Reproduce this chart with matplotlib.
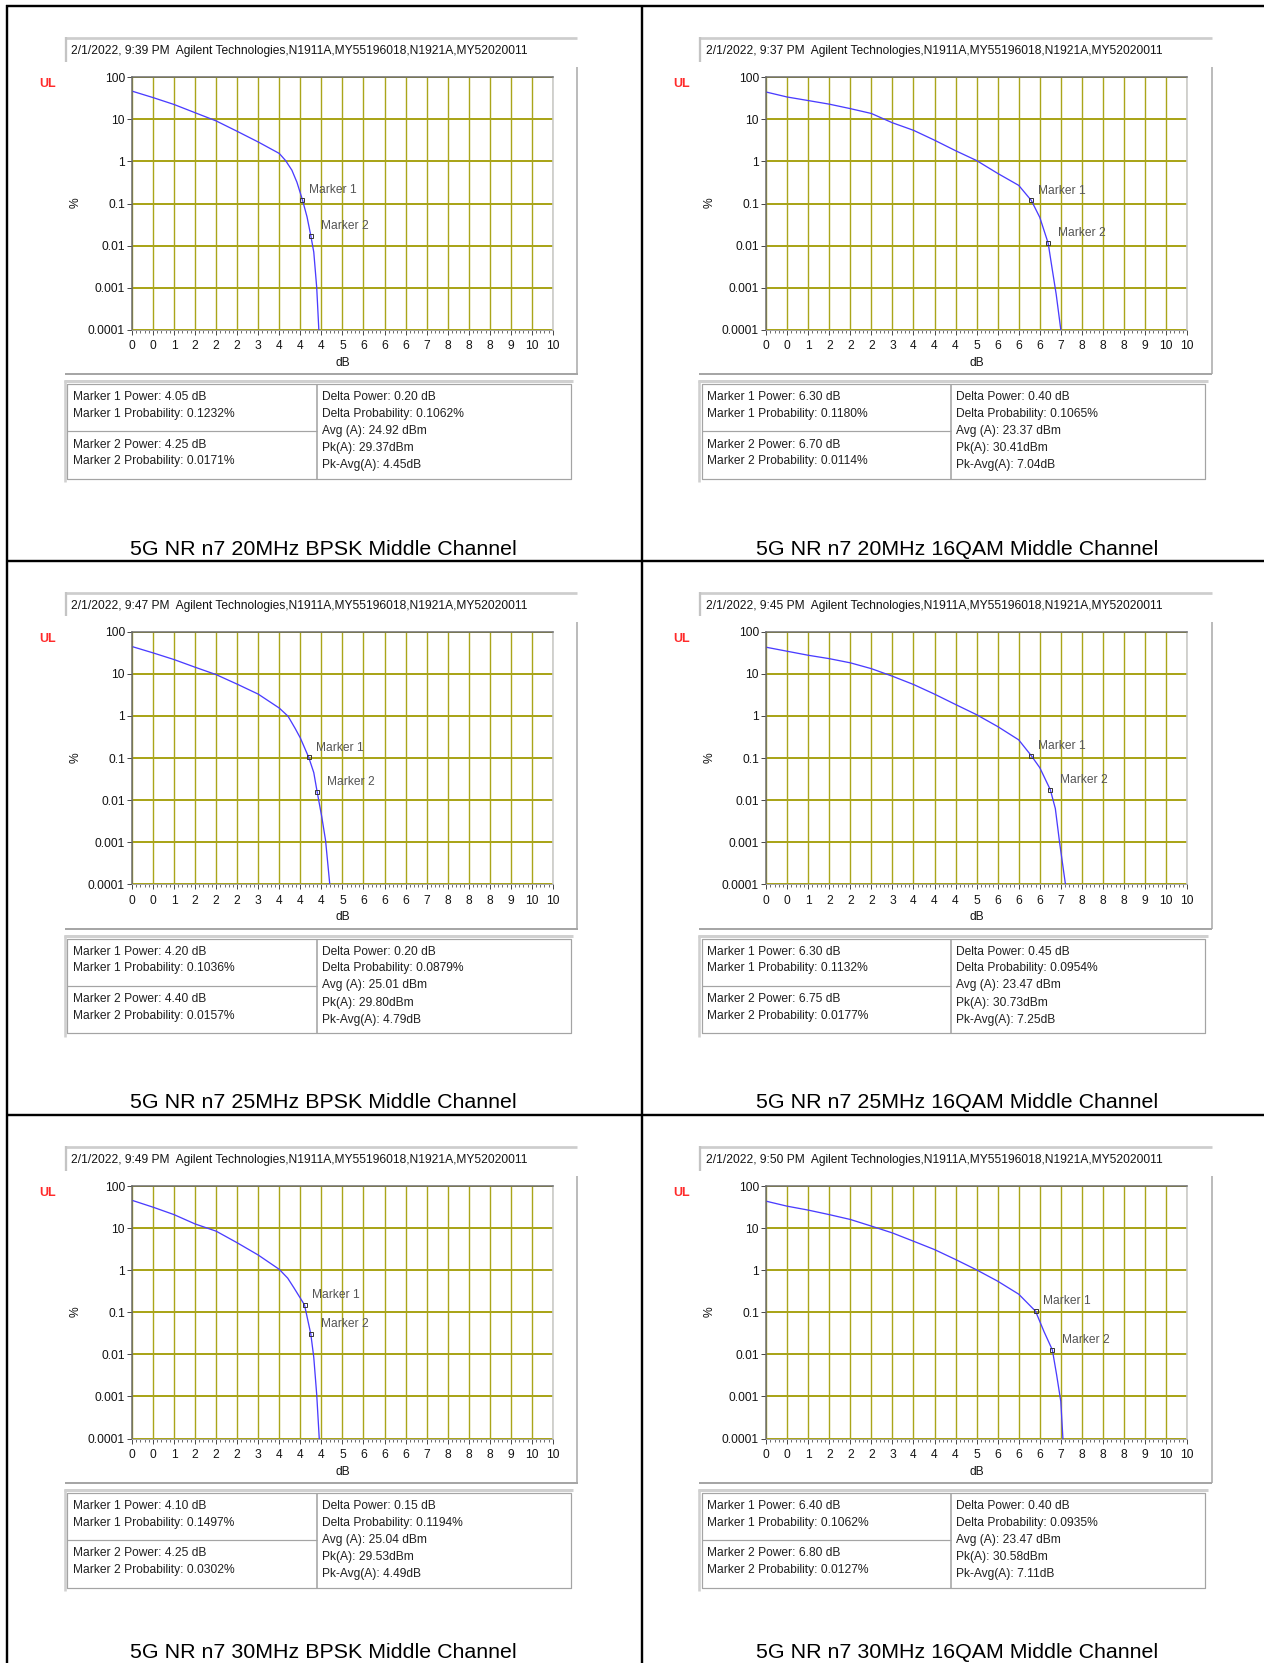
import numpy as np
import matplotlib
matplotlib.use("Agg")
import matplotlib.pyplot as plt
from matplotlib.ticker import MultipleLocator, NullLocator

# ---------------------------------------------------------------- data
captions = [
    "5G NR n7 20MHz BPSK Middle Channel",
    "5G NR n7 20MHz 16QAM Middle Channel",
    "5G NR n7 25MHz BPSK Middle Channel",
    "5G NR n7 25MHz 16QAM Middle Channel",
    "5G NR n7 30MHz BPSK Middle Channel",
    "5G NR n7 30MHz 16QAM Middle Channel",
]
capture_times = [
    "2/1/2022, 9:39 PM", "2/1/2022, 9:37 PM",
    "2/1/2022, 9:47 PM", "2/1/2022, 9:45 PM",
    "2/1/2022, 9:49 PM", "2/1/2022, 9:50 PM",
]
instrument_id = "Agilent Technologies,N1911A,MY55196018,N1921A,MY52020011"

# CCDF curves: power above average (dB) vs probability (%)
db_20_bpsk = [0, 0.5, 1.0, 1.5, 2.0, 2.5, 3.0, 3.5, 3.65, 3.8, 3.92, 4.05,
              4.16, 4.25, 4.32, 4.39, 4.44]
pct_20_bpsk = [47, 33, 22.6, 14.4, 9.2, 5.2, 2.9, 1.55, 1.05, 0.62, 0.32, 0.1232,
               0.048, 0.0171, 0.007, 0.001, 0.0001]

db_20_16qam = [0, 0.5, 1.0, 1.5, 2.0, 2.5, 3.0, 3.5, 4.0, 4.5, 5.0, 5.5, 6.0,
               6.30, 6.5, 6.70, 6.79, 6.89, 7.0]
pct_20_16qam = [44.7, 34, 28, 23, 18, 13.8, 8.3, 5.5, 3.2, 1.8, 1.05, 0.52,
                0.27, 0.1180, 0.047, 0.0114, 0.003, 0.0007, 0.0001]

db_25_bpsk = [0, 0.5, 1.0, 1.5, 2.0, 2.5, 3.0, 3.5, 3.71, 3.88, 4.0, 4.20,
              4.32, 4.40, 4.51, 4.60, 4.70]
pct_25_bpsk = [44.7, 31.6, 21.9, 14.4, 9.6, 5.7, 3.3, 1.54, 0.98, 0.5, 0.3,
               0.1036, 0.045, 0.0157, 0.004, 0.0011, 0.0001]

db_25_16qam = [0, 0.5, 1.0, 1.5, 2.0, 2.5, 3.0, 3.5, 4.0, 4.5, 5.0, 5.5, 6.0,
               6.30, 6.5, 6.75, 6.87, 6.97, 7.11]
pct_25_16qam = [43, 34.5, 27.7, 23, 18.3, 13.3, 8.8, 5.6, 3.3, 1.87, 1.07, 0.56,
                0.27, 0.1132, 0.059, 0.0177, 0.0063, 0.001, 0.0001]

db_30_bpsk = [0, 0.5, 1.0, 1.5, 2.0, 2.5, 3.0, 3.5, 3.7, 3.85, 4.10, 4.25,
              4.32, 4.39, 4.45]
pct_30_bpsk = [46, 31.6, 21, 12.6, 8.5, 4.5, 2.3, 1.05, 0.65, 0.38, 0.1497,
               0.0302, 0.0085, 0.0011, 0.0001]

db_30_16qam = [0, 0.5, 1.0, 1.5, 2.0, 2.5, 3.0, 3.5, 4.0, 4.5, 5.0, 5.5, 6.0,
               6.40, 6.6, 6.80, 6.9, 7.0, 7.05]
pct_30_16qam = [43.8, 33.3, 26.9, 21, 16.1, 11.2, 7.7, 4.9, 3.1, 1.8, 1.02,
                0.55, 0.27, 0.1062, 0.035, 0.0127, 0.0033, 0.00076, 0.0001]

# marker read-outs
m1_power = [4.05, 6.30, 4.20, 6.30, 4.10, 6.40]
m1_prob = [0.1232, 0.1180, 0.1036, 0.1132, 0.1497, 0.1062]
m2_power = [4.25, 6.70, 4.40, 6.75, 4.25, 6.80]
m2_prob = [0.0171, 0.0114, 0.0157, 0.0177, 0.0302, 0.0127]
delta_power = [0.20, 0.40, 0.20, 0.45, 0.15, 0.40]
delta_prob = [0.1062, 0.1065, 0.0879, 0.0954, 0.1194, 0.0935]
avg_dbm = [24.92, 23.37, 25.01, 23.47, 25.04, 23.47]
pk_dbm = [29.37, 30.41, 29.80, 30.73, 29.53, 30.58]
pk_avg_db = [4.45, 7.04, 4.79, 7.25, 4.49, 7.11]

# axis ticks
xtick_values = np.arange(0, 10.01, 0.5)
xtick_labels = ["0", "0", "1", "2", "2", "2", "3", "4", "4", "4", "5",
                "6", "6", "6", "7", "8", "8", "8", "9", "10", "10"]
ytick_values = [1e-4, 1e-3, 1e-2, 1e-1, 1, 10, 100]
ytick_labels = ["0.0001", "0.001", "0.01", "0.1", "1", "10", "100"]

curves_db = [db_20_bpsk, db_20_16qam, db_25_bpsk, db_25_16qam, db_30_bpsk, db_30_16qam]
curves_pct = [pct_20_bpsk, pct_20_16qam, pct_25_bpsk, pct_25_16qam, pct_30_bpsk, pct_30_16qam]

# ---------------------------------------------------------------- style
plt.rcParams["font.family"] = ["Liberation Sans", "DejaVu Sans"]
W, H = 1264, 1663
PX = 72.0 / 100.0          # points per pixel at 100 dpi
F_SMALL = 12.0             # px
F_CAPTION = 21.4           # px
GRID = "#aaa51a"
CURVE = "#4a3cff"
TXT = "#141414"

fig = plt.figure(figsize=(W / 100, H / 100), dpi=100)
bg = fig.add_axes([0, 0, 1, 1])
bg.set_xlim(0, W)
bg.set_ylim(H, 0)
bg.axis("off")


def line(xs, ys, color, lw, **kw):
    bg.plot(xs, ys, color=color, lw=lw * PX, solid_capstyle="butt", **kw)


def text(x, y, s, size=F_SMALL, ha="left", color=TXT, **kw):
    # y is the visual middle of the capitals
    bg.text(x, y + 0.358 * size, s, fontsize=size * PX, ha=ha, va="baseline",
            color=color, **kw)


# cell grid
col_x = [7.3, 641.5]
row_y = [6.2, 560.7, 1115.0]
caption_dy = [540.8, 540.0, 535.5]
line([6.0, W], [row_y[0]] * 2, "black", 2.4)
for yy in row_y[1:]:
    line([col_x[0], W], [yy] * 2, "black", 2.4)
line([col_x[0]] * 2, [5.0, H], "black", 2.4)
line([col_x[1]] * 2, [row_y[0], H], "black", 2.4)

for i in range(6):
    r, c = divmod(i, 2)
    x0, y0 = col_x[c], row_y[r]

    # header box
    line([x0 + 57.7, x0 + 570.0], [y0 + 32.1] * 2, "#cdcdcd", 2.7)
    line([x0 + 58.9] * 2, [y0 + 30.8, y0 + 55.5], "#c4c4c4", 2.3)
    text(x0 + 64.1, y0 + 43.8, f"{capture_times[i]}  {instrument_id}")

    text(x0 + 32.0, y0 + 76.8, "UL", size=12.5, color="#ff2a2a", fontweight="bold")

    # raised graph frame
    line([x0 + 570.0] * 2, [y0 + 60.8, y0 + 368.0], "#a6a6a6", 1.5)
    line([x0 + 57.7, x0 + 570.7], [y0 + 368.0] * 2, "#a6a6a6", 2.0)

    # plot area
    ax_l, ax_t, ax_w, ax_h = x0 + 124.6, y0 + 71.1, 421.0, 252.4
    ax = fig.add_axes([ax_l / W, 1 - (ax_t + ax_h) / H, ax_w / W, ax_h / H])
    ax.set_yscale("log")
    ax.set_xlim(0, 10)
    ax.set_ylim(1e-4, 100)
    ax.set_xticks(xtick_values, xtick_labels)
    ax.set_yticks(ytick_values, ytick_labels)
    ax.xaxis.set_minor_locator(MultipleLocator(0.1))
    ax.yaxis.set_minor_locator(NullLocator())
    ax.set_axisbelow(True)
    ax.grid(axis="x", which="major", color=GRID, lw=1.4 * PX)
    ax.grid(axis="y", which="major", color=GRID, lw=2.0 * PX)
    ax.tick_params(axis="both", which="major", direction="out", length=5 * PX,
                   width=1 * PX, color="#4a4a4a", labelsize=F_SMALL * PX,
                   labelcolor=TXT)
    ax.tick_params(axis="y", pad=2 * PX)
    ax.tick_params(axis="x", pad=5.5 * PX)
    ax.tick_params(axis="x", which="minor", direction="out", length=3 * PX,
                   width=0.8 * PX, color="#4a4a4a")
    for side, col, w in [("top", "#6a6a6a", 1.5), ("left", "#6a6a6a", 1.5),
                         ("right", "#c9c9c9", 1.6), ("bottom", "#a8a8a8", 1.0)]:
        ax.spines[side].set_color(col)
        ax.spines[side].set_linewidth(w * PX)
        ax.spines[side].set_zorder(3.5)

    ax.plot(curves_db[i], curves_pct[i], color=CURVE, lw=1.3 * PX,
            solid_joinstyle="round", zorder=3)
    ax.plot([m1_power[i], m2_power[i]], [m1_prob[i], m2_prob[i]], ls="none",
            marker="s", ms=5 * PX, mfc="none", mec="#3a3a3a", mew=1 * PX, zorder=4)
    for name, px_, py_, dx in [("Marker 1", m1_power[i], m1_prob[i], 7),
                               ("Marker 2", m2_power[i], m2_prob[i], 10)]:
        ax.annotate(name, xy=(px_, py_), xytext=(dx, 11 - 0.358 * F_SMALL),
                    textcoords="offset pixels", fontsize=F_SMALL * PX,
                    color="#555555", va="baseline", ha="left",
                    annotation_clip=False)

    bg.text(x0 + 68.2, y0 + 196.5, "%", rotation=90, fontsize=F_SMALL * PX,
            ha="center", va="center", color=TXT)
    text(ax_l + ax_w / 2, y0 + 355.4, "dB", ha="center")

    # marker read-out table
    line([x0 + 56.3, x0 + 566.0], [y0 + 375.2] * 2, "#d0d0d0", 3.0)
    line([x0 + 57.6] * 2, [y0 + 373.8, y0 + 476.0], "#d0d0d0", 2.6)
    tl, tr, tt, tb = x0 + 60.0, x0 + 563.3, y0 + 377.8, y0 + 472.5
    line([tl, tr, tr, tl, tl], [tt, tt, tb, tb, tt], "#a4a4a4", 1.2)
    line([x0 + 309.7] * 2, [tt, tb], "#a4a4a4", 1.6)
    line([tl, x0 + 309.7], [y0 + 424.8] * 2, "#a4a4a4", 1.2)

    left_rows = [
        (389.8, f"Marker 1 Power: {m1_power[i]:.2f} dB"),
        (406.5, f"Marker 1 Probability: {m1_prob[i]:.4f}%"),
        (437.1, f"Marker 2 Power: {m2_power[i]:.2f} dB"),
        (453.8, f"Marker 2 Probability: {m2_prob[i]:.4f}%"),
    ]
    right_rows = [
        (389.8, f"Delta Power: {delta_power[i]:.2f} dB"),
        (406.5, f"Delta Probability: {delta_prob[i]:.4f}%"),
        (423.5, f"Avg (A): {avg_dbm[i]:.2f} dBm"),
        (440.6, f"Pk(A): {pk_dbm[i]:.2f}dBm"),
        (457.6, f"Pk-Avg(A): {pk_avg_db[i]:.2f}dB"),
    ]
    for yy, s in left_rows:
        text(x0 + 65.4, y0 + yy, s, color="#202020")
    for yy, s in right_rows:
        text(x0 + 314.3, y0 + yy, s, color="#202020")

    text(x0 + 316.0, y0 + caption_dy[r], captions[i], size=F_CAPTION, ha="center",
         color="black")

fig.savefig("out.png", dpi=100, facecolor="white")
